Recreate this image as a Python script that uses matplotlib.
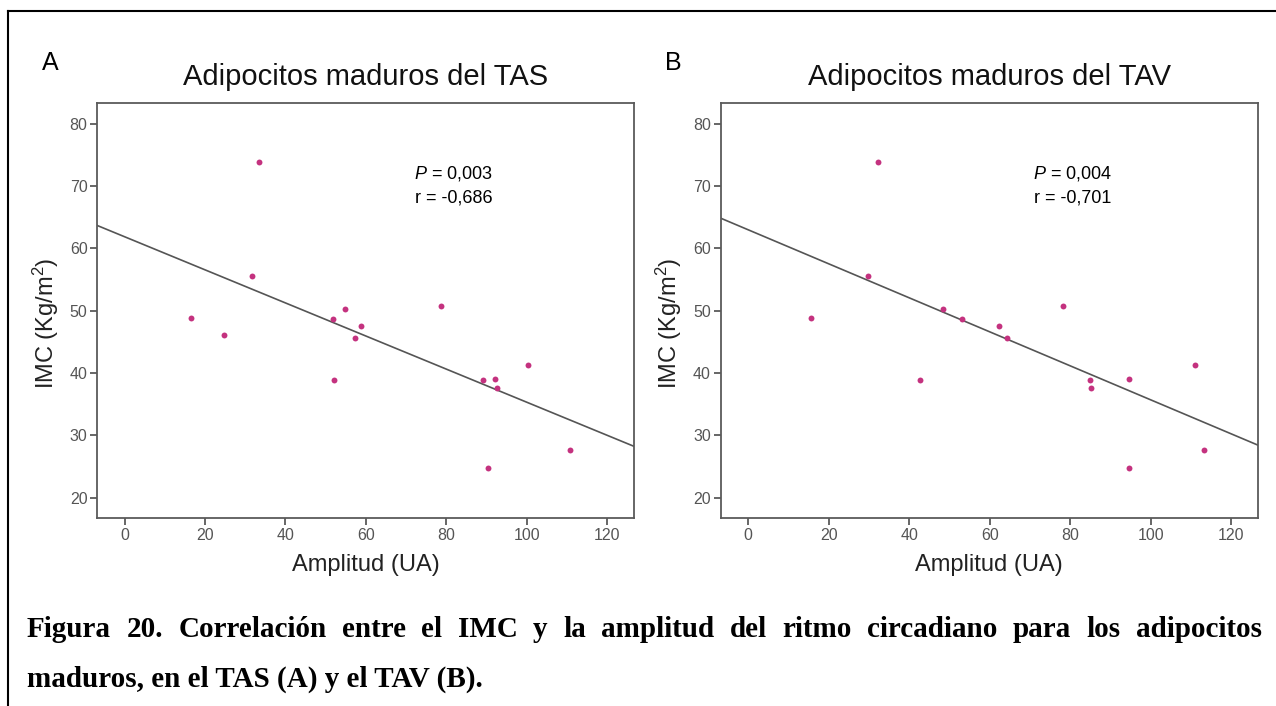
import numpy as np
import matplotlib
matplotlib.use("Agg")
import matplotlib.pyplot as plt
from matplotlib.lines import Line2D

# panel A - TAS
amp_tas = [16.4, 24.7, 31.6, 33.3, 51.7, 52.1, 54.9, 57.3, 58.9, 78.6,
           89.1, 90.3, 92.1, 92.6, 100.4, 110.7]
imc_tas = [48.9, 46.1, 55.6, 73.9, 48.6, 38.8, 50.3, 45.6, 47.5, 50.8,
           38.8, 24.7, 39.0, 37.6, 41.3, 27.6]

# panel B - TAV
amp_tav = [15.6, 29.7, 32.2, 42.7, 48.3, 53.2, 62.2, 64.4, 78.1, 85.0,
           85.2, 94.5, 94.6, 110.9, 113.2]
imc_tav = [48.9, 55.6, 73.9, 38.8, 50.3, 48.7, 47.5, 45.6, 50.8, 38.8,
           37.6, 39.0, 24.7, 41.3, 27.6]

x_ticks = [0, 20, 40, 60, 80, 100, 120]
y_ticks = [20, 30, 40, 50, 60, 70, 80]
titles = ["Adipocitos maduros del TAS", "Adipocitos maduros del TAV"]
p_vals = ["0,003", "0,004"]
r_vals = ["-0,686", "-0,701"]
caption_1 = ("Figura 20. Correlación entre el IMC y la amplitud del ritmo "
             "circadiano para los adipocitos")
caption_2 = "maduros, en el TAS (A) y el TAV (B)."

plt.rcParams['font.family'] = ['Liberation Sans', 'DejaVu Sans']
plt.rcParams['mathtext.fontset'] = 'custom'
plt.rcParams['mathtext.rm'] = 'Liberation Sans'
plt.rcParams['mathtext.it'] = 'Liberation Sans:italic'

W, H = 1276, 706
fig = plt.figure(figsize=(W / 100, H / 100), dpi=100)

XLIM = (-6.8, 126.6)
YLIM = (16.67, 83.3)
dot_color = '#C4327F'
frame_color = '#5a5a5a'


def px_box(left, top, right, bottom):
    return [left / W, 1 - bottom / H, (right - left) / W, (bottom - top) / H]


def draw_panel(ax, amp, imc, title, p, r, text_x):
    amp = np.array(amp)
    imc = np.array(imc)
    slope, icpt = np.polyfit(amp, imc, 1)
    xs = np.array(XLIM)
    ax.plot(xs, icpt + slope * xs, color='#555555', lw=1.2, zorder=2)
    ax.scatter(amp, imc, s=18, color=dot_color, linewidths=0, zorder=3)
    ax.set_xlim(XLIM)
    ax.set_ylim(YLIM)
    ax.set_xticks(x_ticks)
    ax.set_yticks(y_ticks)
    for s in ax.spines.values():
        s.set_color(frame_color)
        s.set_linewidth(1.3)
    ax.tick_params(direction='out', length=5, width=1.3, color=frame_color,
                   labelcolor='#555555', labelsize=11.5, pad=2)
    ax.set_xlabel("Amplitud (UA)", fontsize=17, color='#222222', labelpad=8)
    ax.set_ylabel("IMC (Kg/m$^2$)", fontsize=17, color='#222222')
    ax.yaxis.set_label_coords(-0.068, 0.47)
    ax.set_title(title, fontsize=21, color='#111111', pad=13)
    ax.text(text_x, 72.0, "$P$ = " + p, fontsize=13, ha='center', va='center')
    ax.text(text_x, 68.1, "r = " + r, fontsize=13, ha='center', va='center')


ax_a = fig.add_axes(px_box(97.3, 103.3, 633.7, 518.3))
ax_b = fig.add_axes(px_box(720.7, 103.3, 1258, 518.3))
draw_panel(ax_a, amp_tas, imc_tas, titles[0], p_vals[0], r_vals[0], 81.8)
draw_panel(ax_b, amp_tav, imc_tav, titles[1], p_vals[1], r_vals[1], 80.5)

fig.text(42 / W, 1 - 63 / H, "A", fontsize=18, va='center', ha='left')
fig.text(665 / W, 1 - 63 / H, "B", fontsize=18, va='center', ha='left')

# outer frame: top and left edges only
fig.add_artist(Line2D([7.5 / W, 1.0], [1 - 11 / H, 1 - 11 / H],
                      color='black', lw=1.5, transform=fig.transFigure))
fig.add_artist(Line2D([7.5 / W, 7.5 / W], [0.0, 1 - 11 / H],
                      color='black', lw=1.5, transform=fig.transFigure))

# caption, first line justified between x0 and x1
cap_kw = dict(fontsize=21, fontweight='bold', family=['Liberation Serif'],
              va='baseline', ha='left')
x0, x1 = 27, 1262
renderer = fig.canvas.get_renderer()
words = caption_1.split()
objs = [fig.text(0, 0, w, **cap_kw) for w in words]
widths = [o.get_window_extent(renderer).width for o in objs]
gap = (x1 - x0 - sum(widths)) / (len(words) - 1)
xpos = x0
for o, wd in zip(objs, widths):
    o.set_position((xpos / W, 1 - 637 / H))
    xpos += wd + gap
fig.text(x0 / W, 1 - 687 / H, caption_2, **cap_kw)

fig.savefig("out.png", dpi=100)
